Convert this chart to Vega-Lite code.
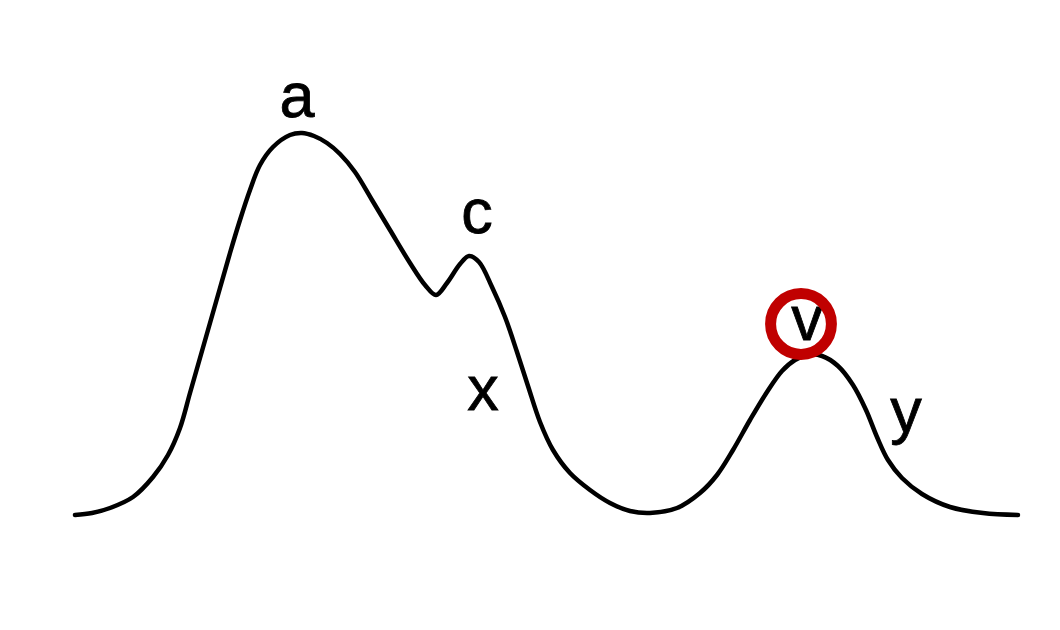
{
  "$schema": "https://vega.github.io/schema/vega-lite/v6.json",
  "width": 1060,
  "height": 630,
  "autosize": {"type": "fit", "contains": "padding"},
  "padding": 0,
  "background": "#ffffff",
  "config": {"view": {"stroke": null}},
  "datasets": {
    "profile": [
      {"t": 75, "h": 115}, {"t": 92, "h": 117}, {"t": 110, "h": 122}, {"t": 133, "h": 133},
      {"t": 153, "h": 153}, {"t": 168, "h": 175}, {"t": 180, "h": 202}, {"t": 190, "h": 237},
      {"t": 200, "h": 272}, {"t": 210, "h": 307}, {"t": 220, "h": 342}, {"t": 230, "h": 377},
      {"t": 240, "h": 410}, {"t": 250, "h": 440}, {"t": 260, "h": 465}, {"t": 273, "h": 483},
      {"t": 290, "h": 495}, {"t": 302, "h": 497}, {"t": 314, "h": 494}, {"t": 327, "h": 487},
      {"t": 340, "h": 476}, {"t": 355, "h": 458}, {"t": 372, "h": 430}, {"t": 390, "h": 400},
      {"t": 410, "h": 367}, {"t": 425, "h": 345}, {"t": 436, "h": 335}, {"t": 447, "h": 347},
      {"t": 460, "h": 366}, {"t": 469, "h": 374}, {"t": 479, "h": 368}, {"t": 492, "h": 343},
      {"t": 505, "h": 313}, {"t": 517, "h": 278}, {"t": 528, "h": 244}, {"t": 540, "h": 208},
      {"t": 553, "h": 180}, {"t": 570, "h": 157}, {"t": 590, "h": 140}, {"t": 610, "h": 127},
      {"t": 630, "h": 119}, {"t": 650, "h": 117}, {"t": 677, "h": 122}, {"t": 700, "h": 137},
      {"t": 717, "h": 155}, {"t": 733, "h": 180}, {"t": 750, "h": 210}, {"t": 767, "h": 238},
      {"t": 782, "h": 259}, {"t": 795, "h": 270}, {"t": 808, "h": 275}, {"t": 822, "h": 274},
      {"t": 838, "h": 264}, {"t": 853, "h": 245}, {"t": 866, "h": 220}, {"t": 877, "h": 193},
      {"t": 888, "h": 170}, {"t": 902, "h": 152}, {"t": 922, "h": 136}, {"t": 950, "h": 123},
      {"t": 983, "h": 117}, {"t": 1018, "h": 115}
    ],
    "labels": [
      {"t": 297, "h": 513, "label": "a"},
      {"t": 477, "h": 397, "label": "c"},
      {"t": 483, "h": 220, "label": "x"},
      {"t": 807, "h": 290, "label": "v"},
      {"t": 906, "h": 198, "label": "y"}
    ],
    "highlight": [
      {"t": 801, "h": 306, "label": "v"}
    ]
  },
  "layer": [
    {
      "data": {"name": "profile"},
      "mark": {"type": "line", "interpolate": "catmull-rom", "color": "#000000", "strokeWidth": 4.5, "strokeCap": "round"},
      "encoding": {
        "x": {"field": "t", "type": "quantitative", "scale": {"domain": [0, 1060], "nice": false, "zero": false}, "axis": null},
        "y": {"field": "h", "type": "quantitative", "scale": {"domain": [0, 630], "nice": false, "zero": false}, "axis": null}
      }
    },
    {
      "data": {"name": "labels"},
      "mark": {"type": "text", "font": "Liberation Sans", "fontSize": 63, "align": "center", "baseline": "alphabetic", "color": "#000000", "stroke": "#000000", "strokeWidth": 0.8},
      "encoding": {
        "x": {"field": "t", "type": "quantitative", "scale": {"domain": [0, 1060], "nice": false, "zero": false}, "axis": null},
        "y": {"field": "h", "type": "quantitative", "scale": {"domain": [0, 630], "nice": false, "zero": false}, "axis": null},
        "text": {"field": "label"}
      }
    },
    {
      "data": {"name": "highlight"},
      "mark": {"type": "point", "shape": "circle", "filled": false, "size": 3700, "strokeWidth": 11, "color": "#c00000", "opacity": 1},
      "encoding": {
        "x": {"field": "t", "type": "quantitative", "scale": {"domain": [0, 1060], "nice": false, "zero": false}, "axis": null},
        "y": {"field": "h", "type": "quantitative", "scale": {"domain": [0, 630], "nice": false, "zero": false}, "axis": null}
      }
    }
  ]
}
